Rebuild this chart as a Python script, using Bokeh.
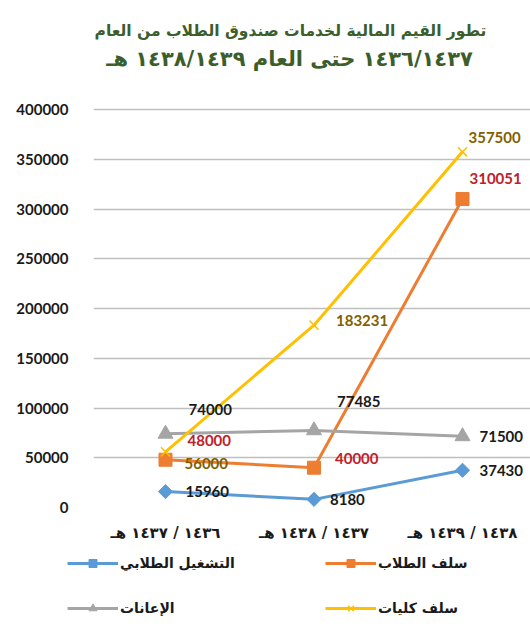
from bokeh.plotting import figure
from bokeh.layouts import column
from bokeh.models import (Range1d, FixedTicker, ColumnDataSource, LabelSet,
                          Legend, LegendItem, Label)
from bokeh.core.properties import value
from bokeh.embed import file_html
from bokeh.resources import INLINE
import math

# ---------------- data ----------------
categories = ["١٤٣٦ / ١٤٣٧ هـ", "١٤٣٧ / ١٤٣٨ هـ", "١٤٣٨ / ١٤٣٩ هـ"]
title_line1 = "تطور القيم المالية لخدمات صندوق الطلاب من العام"
title_line2 = "١٤٣٦/١٤٣٧ حتى العام ١٤٣٨/١٤٣٩ هـ"

name_employment = "التشغيل الطلابي"
name_student_loans = "سلف الطلاب"
name_grants = "الإعانات"
name_college_loans = "سلف كليات"

employment = [15960, 8180, 37430]
student_loans = [48000, 40000, 310051]
grants = [74000, 77485, 71500]
college_loans = [56000, 183231, 357500]

y_ticks = [0, 50000, 100000, 150000, 200000, 250000, 300000, 350000, 400000]

# label offsets (style: pixels, up positive)
off_employment = ([20, 16, 17], [0, 0, 0])
off_student_loans = ([22, 21, 7], [19, 9, 20])
off_grants = ([23, 23, 17], [24, 29, 0])
off_college_loans = ([19, 22, 6], [-12, 5, 14])

# ---------------- layout (pixels) ----------------
W, H = 530, 628
H1 = 548                    # chart part; legend part below it
frame_left = 93
frame_bottom = 507          # pixel row of value 0
top_tick_px = 109           # pixel row of the highest tick
cat_px = (165, 462)         # pixel columns of first and last category
legend_left = 67

xs = list(range(len(categories)))
ymax_tick = y_ticks[-1]
y_end = ymax_tick * frame_bottom / (frame_bottom - top_tick_px)
x_scale = (cat_px[1] - cat_px[0]) / (len(categories) - 1)
x_start = -(cat_px[0] - frame_left) / x_scale
x_end = x_start + (W - frame_left) / x_scale

p = figure(width=W, height=H1, output_backend="svg", toolbar_location=None,
           x_range=Range1d(x_start, x_end), y_range=Range1d(0, y_end),
           min_border_left=frame_left, min_border_right=0, min_border_top=0,
           min_border_bottom=H1 - frame_bottom)
p.background_fill_color = "white"
p.border_fill_color = "white"
p.outline_line_color = None

# title lines (screen units from the frame's bottom-left corner)
for txt, cx, cy, fs in [(title_line1, 290, 30, "15.5px"), (title_line2, 289, 58, "21px")]:
    p.add_layout(Label(x=cx - frame_left, y=frame_bottom - cy, x_units="screen",
                       y_units="screen", text=txt, text_align="center",
                       text_baseline="middle", text_font="DejaVu Sans",
                       text_font_size=fs, text_font_style="bold",
                       text_color="#3B5E2B"))

# axes
p.yaxis.ticker = FixedTicker(ticks=y_ticks)
p.yaxis.formatter.use_scientific = False
p.yaxis.axis_line_color = None
p.yaxis.major_tick_line_color = None
p.yaxis.minor_tick_line_color = None
p.yaxis.major_label_standoff = 19
p.yaxis.major_label_text_font = "Lato"
p.yaxis.major_label_text_font_style = "bold"
p.yaxis.major_label_text_font_size = "15px"
p.yaxis.major_label_text_color = "#1a1a1a"

p.xaxis.ticker = FixedTicker(ticks=xs)
p.xaxis.major_label_overrides = {i: c for i, c in zip(xs, categories)}
p.xaxis.axis_line_color = None
p.xaxis.major_tick_line_color = None
p.xaxis.minor_tick_line_color = None
p.xaxis.major_label_standoff = 10
p.xaxis.major_label_text_font = "DejaVu Sans"
p.xaxis.major_label_text_font_style = "bold"
p.xaxis.major_label_text_font_size = "15px"
p.xaxis.major_label_text_color = "#1a1a1a"

p.xgrid.grid_line_color = None
p.ygrid.ticker = FixedTicker(ticks=y_ticks)
p.ygrid.grid_line_color = "#BFBFBF"
p.ygrid.grid_line_width = 1.5

# legend figure (its own frame; the data lie outside its ranges)
p2 = figure(width=W, height=H - H1, output_backend="svg", toolbar_location=None,
            x_range=Range1d(-3, -2), y_range=Range1d(-3, -2),
            x_axis_location=None, y_axis_location=None,
            min_border_left=0, min_border_right=0, min_border_top=0, min_border_bottom=0)
p2.outline_line_color = None
p2.grid.visible = False
p2.background_fill_color = "white"
p2.border_fill_color = "white"

unaligned = "frame_align" in p2.properties()
if unaligned:
    p.frame_align = False
    p2.frame_align = False
legend_x = legend_left if unaligned else 0

series = [
    (name_employment, employment, "#5B9BD5", "square", 10, math.pi / 4, "#1a1a1a", off_employment),
    (name_student_loans, student_loans, "#ED7D31", "square", 13, 0, "#C0202A", off_student_loans),
    (name_grants, grants, "#A5A5A5", "triangle", 15, 0, "#1a1a1a", off_grants),
    (name_college_loans, college_loans, "#FFC000", "x", 13, 0, "#7F6000", off_college_loans),
]

items = {}
for name, vals, color, marker, size, ang, lcolor, offs in series:
    src = ColumnDataSource(dict(x=xs, y=vals, lbl=[str(v) for v in vals],
                                xo=offs[0], yo=offs[1]))
    renderers = []
    for fig in (p, p2):
        ln = fig.line("x", "y", source=src, line_color=color, line_width=3)
        if marker == "x":
            sc = fig.scatter("x", "y", source=src, marker=marker, size=size,
                             line_color=color, line_width=1.5)
        else:
            sc = fig.scatter("x", "y", source=src, marker=marker, size=size, angle=ang,
                             fill_color=color, line_color=color)
        renderers = [ln, sc]
    labels = LabelSet(x="x", y="y", text="lbl", source=src, x_offset="xo", y_offset="yo",
                      text_align="left", text_baseline="middle",
                      text_font=value("Lato"), text_font_style="bold",
                      text_font_size=value("15px"), text_color=lcolor)
    p.add_layout(labels)
    items[name] = LegendItem(label=name, renderers=renderers)

# legend fills column by column: first column employment / grants
legend_order = [name_employment, name_grants, name_student_loans, name_college_loans]
legend = Legend(items=[items[n] for n in legend_order], location=(legend_x, 10), ncols=2,
                glyph_width=51, glyph_height=20, label_height=20, label_width=180,
                label_standoff=2, spacing=25, padding=0, margin=0,
                border_line_color=None, background_fill_alpha=0,
                label_text_font="DejaVu Sans", label_text_font_style="bold",
                label_text_font_size="14px", label_text_color="#1a1a1a")
p2.add_layout(legend, "center")

layout = column(p, p2, spacing=0)
open("out.html", "w").write(file_html(layout, INLINE))
